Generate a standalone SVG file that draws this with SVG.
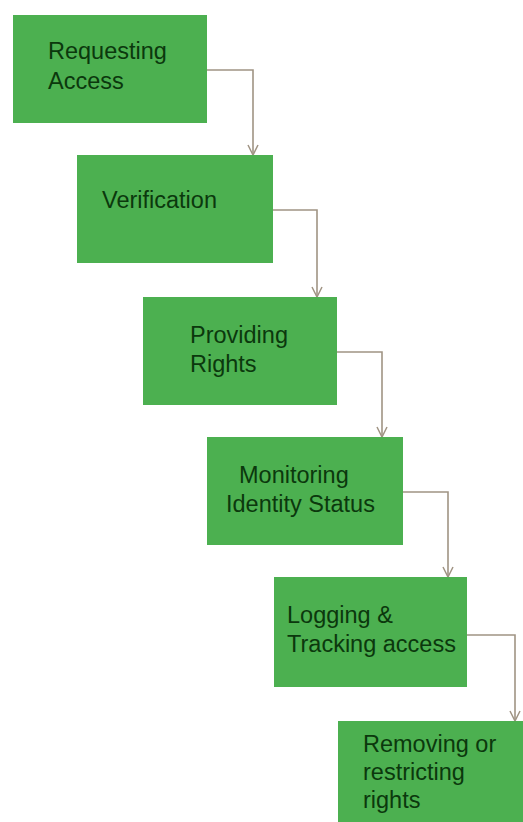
<svg xmlns="http://www.w3.org/2000/svg" width="523" height="822" viewBox="0 0 523 822">
<style>
.box{fill:#4cb050;}
.t{font-family:"Liberation Sans",Arial,sans-serif;font-size:23.5px;fill:#0b380d;}
.c{fill:none;stroke:#a09484;stroke-width:1.6;}
</style>
<defs>
<marker id="arr" viewBox="0 0 12 12" refX="11" refY="6" markerWidth="12" markerHeight="12" markerUnits="userSpaceOnUse" orient="auto">
<path d="M1,1 L11,6 L1,11" fill="none" stroke="#a09484" stroke-width="1.5"/>
</marker>
</defs>
<rect width="523" height="822" fill="#ffffff"/>
<g id="connectors">
<path class="c" d="M207,70 H253 V155" marker-end="url(#arr)"/>
<path class="c" d="M273,210 H317 V297" marker-end="url(#arr)"/>
<path class="c" d="M337,352 H382 V437" marker-end="url(#arr)"/>
<path class="c" d="M403,492 H448 V577" marker-end="url(#arr)"/>
<path class="c" d="M467,635 H515 V721" marker-end="url(#arr)"/>
</g>
<g id="n1">
<rect class="box" x="13" y="15" width="194" height="108"/>
<text class="t" x="48" y="59">Requesting</text>
<text class="t" x="48" y="89">Access</text>
</g>
<g id="n2">
<rect class="box" x="77" y="155" width="196" height="108"/>
<text class="t" x="102" y="208">Verification</text>
</g>
<g id="n3">
<rect class="box" x="143" y="297" width="194" height="108"/>
<text class="t" x="190" y="343">Providing</text>
<text class="t" x="190" y="372">Rights</text>
</g>
<g id="n4">
<rect class="box" x="207" y="437" width="196" height="108"/>
<text class="t" x="239" y="483">Monitoring</text>
<text class="t" x="226" y="512">Identity Status</text>
</g>
<g id="n5">
<rect class="box" x="274" y="577" width="193" height="110"/>
<text class="t" x="287" y="623">Logging &amp;</text>
<text class="t" x="287" y="652">Tracking access</text>
</g>
<g id="n6">
<rect class="box" x="338" y="721" width="190" height="110"/>
<text class="t" x="363" y="752">Removing or</text>
<text class="t" x="363" y="780">restricting</text>
<text class="t" x="363" y="808">rights</text>
</g>
</svg>
